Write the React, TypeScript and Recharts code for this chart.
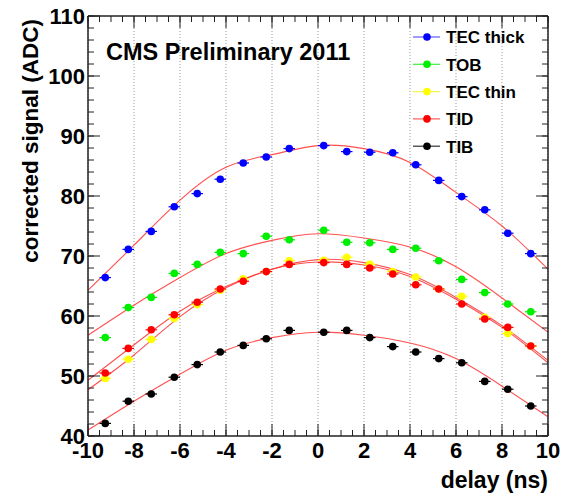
import { ComposedChart, Line, Scatter, ErrorBar, XAxis, YAxis, CartesianGrid } from 'recharts';

// measured delays (ns)
const delays = [-9.25, -8.25, -7.25, -6.25, -5.25, -4.25, -3.25, -2.25, -1.25, 0.25, 1.25, 2.25, 3.25, 4.25, 5.25, 6.25, 7.25, 8.25, 9.25];

const tecThick = [66.4, 71.1, 74.1, 78.2, 80.4, 82.8, 85.5, 86.5, 87.9, 88.4, 87.4, 87.3, 87.2, 85.2, 82.6, 79.9, 77.7, 73.8, 70.4];
const tob = [56.4, 61.4, 63.1, 67.1, 68.6, 70.6, 70.4, 73.3, 72.7, 74.3, 72.3, 72.2, 71.1, 71.3, 69.2, 66.1, 63.9, 62.0, 60.7];
const tecThin = [49.6, 52.8, 56.1, 59.6, 61.9, 64.3, 66.2, 67.4, 69.2, 69.3, 69.8, 68.6, 67.4, 66.5, 64.5, 63.3, 59.8, 57.1, 55.0];
const tid = [50.5, 54.6, 57.7, 60.2, 62.3, 64.5, 65.8, 67.4, 68.6, 68.9, 68.6, 68.0, 67.0, 65.2, 64.5, 62.0, 59.5, 58.1, 55.0];
const tib = [42.1, 45.8, 47.0, 49.8, 51.9, 54.0, 55.1, 56.2, 57.6, 57.3, 57.6, 56.4, 54.9, 54.0, 52.9, 52.2, 49.1, 47.8, 45.0];

// fit curves
const fitDelays = [-10, -8, -6, -4, -2, 0, 2, 4, 6, 8, 10];
const fitTecThick = [64.3, 71.8, 79.3, 84.8, 86.9, 88.4, 87.9, 85.6, 80.6, 75.0, 67.8];
const fitTob = [56.8, 61.8, 66.4, 70.4, 72.6, 73.7, 73.0, 71.5, 68.2, 63.0, 57.3];
const fitTecThin = [47.7, 53.5, 59.9, 64.7, 67.8, 69.4, 68.9, 66.9, 63.1, 58.4, 52.6];
const fitTid = [49.3, 55.2, 60.8, 64.9, 67.8, 69.0, 68.5, 66.6, 62.8, 58.1, 52.2];
const fitTib = [41.0, 45.8, 50.3, 54.3, 56.4, 57.3, 56.8, 55.5, 52.9, 48.3, 43.2];

const xMajor = [-10, -8, -6, -4, -2, 0, 2, 4, 6, 8, 10];
const xMinor = Array.from({ length: 41 }, (_, i) => -10 + i * 0.5);
const yMajor = [40, 50, 60, 70, 80, 90, 100, 110];
const yMinor = Array.from({ length: 36 }, (_, i) => 40 + i * 2);

const DELAY_ERR = 0.25;

// the fits are hung on the tick-only axes (same domains) so every axis gets its ticks
const series = [
  { name: 'TEC thick', color: '#0000ff', legend: '#5c5cff', values: tecThick, fit: fitTecThick, ax: 'xb1', ay: 'yl1' },
  { name: 'TOB', color: '#00ee00', legend: '#3cf03c', values: tob, fit: fitTob, ax: 'xb2', ay: 'yl2' },
  { name: 'TEC thin', color: '#ffff00', legend: '#f4f44a', values: tecThin, fit: fitTecThin, ax: 'xt1', ay: 'yr1' },
  { name: 'TID', color: '#ff0000', legend: '#ff5a5a', values: tid, fit: fitTid, ax: 'xt2', ay: 'yr2' },
  { name: 'TIB', color: '#000000', legend: '#333333', values: tib, fit: fitTib, ax: 'x', ay: 'y' },
];

const FONT = '"Liberation Sans", Arial, Helvetica, sans-serif';
const W = 562;
const H = 494;
const THIN = 0.01; // tick-only axes take (almost) no room but must not be 0 or they are skipped

const points = (vals: number[]) => delays.map((x, i) => ({ x, y: vals[i], ex: DELAY_ERR }));
const curve = (vals: number[]) => fitDelays.map((x, i) => ({ x, y: vals[i] }));

const frame = '#222';
const noLabel = () => <g />;

export default function App() {
  return (
    <div style={{ position: 'absolute', left: 0, top: 0, width: W, height: H, background: '#fff' }}>
      <ComposedChart width={W} height={H} margin={{ top: 16, right: 14, bottom: 0, left: 0 }}>
        <CartesianGrid xAxisId="xb1" yAxisId="yl1" horizontal={false} stroke="#999" strokeDasharray="1 2" />

        {/* tick-only axes, drawn inside the frame */}
        <XAxis xAxisId="xb1" dataKey="x" type="number" domain={[-10, 10]} allowDataOverflow ticks={xMajor} interval={0} orientation="bottom" mirror height={THIN} tick={noLabel} tickSize={12} stroke={frame} />
        <XAxis xAxisId="xb2" dataKey="x" type="number" domain={[-10, 10]} allowDataOverflow ticks={xMinor} interval={0} orientation="bottom" mirror height={THIN} tick={noLabel} tickSize={6} stroke={frame} />
        <XAxis xAxisId="xt1" dataKey="x" type="number" domain={[-10, 10]} allowDataOverflow ticks={xMajor} interval={0} orientation="top" mirror height={THIN} tick={noLabel} tickSize={12} stroke={frame} />
        <XAxis xAxisId="xt2" dataKey="x" type="number" domain={[-10, 10]} allowDataOverflow ticks={xMinor} interval={0} orientation="top" mirror height={THIN} tick={noLabel} tickSize={6} stroke={frame} />
        <YAxis yAxisId="yl1" dataKey="y" type="number" domain={[40, 110]} allowDataOverflow ticks={yMajor} interval={0} orientation="left" mirror width={THIN} tick={noLabel} tickSize={12} stroke={frame} />
        <YAxis yAxisId="yl2" dataKey="y" type="number" domain={[40, 110]} allowDataOverflow ticks={yMinor} interval={0} orientation="left" mirror width={THIN} tick={noLabel} tickSize={6} stroke={frame} />
        <YAxis yAxisId="yr1" dataKey="y" type="number" domain={[40, 110]} allowDataOverflow ticks={yMajor} interval={0} orientation="right" mirror width={THIN} tick={noLabel} tickSize={12} stroke={frame} />
        <YAxis yAxisId="yr2" dataKey="y" type="number" domain={[40, 110]} allowDataOverflow ticks={yMinor} interval={0} orientation="right" mirror width={THIN} tick={noLabel} tickSize={6} stroke={frame} />

        {/* label axes */}
        <XAxis
          xAxisId="x"
          dataKey="x"
          type="number"
          domain={[-10, 10]}
          allowDataOverflow
          ticks={xMajor}
          interval={0}
          height={58}
          axisLine={false}
          tickLine={false}
          tickSize={0}
          tickMargin={6}
          tick={{ fontSize: 22, fontWeight: 'bold', fill: '#000', fontFamily: FONT }}
        />
        <YAxis
          yAxisId="y"
          dataKey="y"
          type="number"
          domain={[40, 110]}
          allowDataOverflow
          ticks={yMajor}
          interval={0}
          width={88}
          axisLine={false}
          tickLine={false}
          tickSize={0}
          tickMargin={3}
          tick={{ fontSize: 22, fontWeight: 'bold', fill: '#000', fontFamily: FONT }}
        />

        {series.map((s) => (
          <Line
            key={`fit-${s.name}`}
            xAxisId={s.ax}
            yAxisId={s.ay}
            data={curve(s.fit)}
            dataKey="y"
            type="natural"
            dot={false}
            activeDot={false}
            stroke="#ff3030"
            strokeOpacity={0.85}
            strokeWidth={1.1}
            legendType="none"
            isAnimationActive={false}
          />
        ))}

        {series.map((s) => (
          <Scatter
            key={s.name}
            name={s.name}
            xAxisId="x"
            yAxisId="y"
            data={points(s.values)}
            dataKey="y"
            fill={s.color}
            isAnimationActive={false}
            shape={(p: any) => <circle cx={p.cx} cy={p.cy} r={3.8} fill={s.color} />}
          >
            <ErrorBar dataKey="ex" direction="x" width={0} stroke={s.color} strokeWidth={1.2} />
          </Scatter>
        ))}
      </ComposedChart>

      <svg width={W} height={H} style={{ position: 'absolute', left: 0, top: 0, pointerEvents: 'none' }}>
        <text x={106} y={60} fontFamily={FONT} fontWeight="bold" fontSize={23.5} fill="#000">
          CMS Preliminary 2011
        </text>
        <text
          x={38}
          y={19}
          fontFamily={FONT}
          fontWeight="bold"
          fontSize={22.5}
          fill="#000"
          textAnchor="end"
          transform="rotate(-90 38 19)"
        >
          corrected signal (ADC)
        </text>
        <text x={548} y={488} fontFamily={FONT} fontWeight="bold" fontSize={23} fill="#000" textAnchor="end">
          delay (ns)
        </text>
        {series.map((s, i) => {
          const cy = 37 + i * 27.3;
          return (
            <g key={`leg-${s.name}`}>
              <line x1={413} x2={440} y1={cy} y2={cy} stroke={s.legend} strokeWidth={1.2} />
              <circle cx={427} cy={cy} r={3.8} fill={s.color} />
              <text x={446} y={cy + 6.3} fontFamily={FONT} fontWeight="bold" fontSize={17} fill="#000">
                {s.name}
              </text>
            </g>
          );
        })}
      </svg>
    </div>
  );
}
